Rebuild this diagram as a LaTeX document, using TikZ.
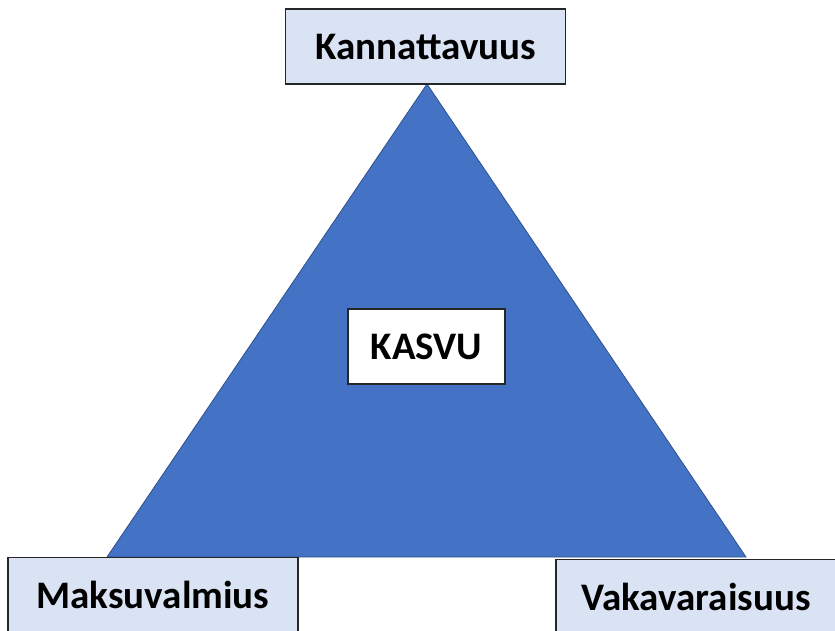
\documentclass[tikz,border=0pt]{standalone}
\usepackage{fontspec}
\setmainfont{Carlito}
\definecolor{triblue}{HTML}{4472C4}
\definecolor{triedge}{HTML}{2F528F}
\definecolor{boxblue}{HTML}{DAE3F3}
\begin{document}
\begin{tikzpicture}[x=1pt,y=-1pt,
	corner/.style={draw=black!85,line width=1.2pt,fill=boxblue,minimum width=280pt,minimum height=75pt,inner sep=0pt,font=\fontsize{39}{46}\selectfont\bfseries},
	core/.style={draw=black!85,line width=1.2pt,fill=white,minimum width=157pt,minimum height=75pt,inner sep=0pt,font=\fontsize{39}{46}\selectfont\bfseries}]
	% Frame of the picture
	\useasboundingbox (0,0) rectangle (835,630);
	\clip (0,0) rectangle (835,630);

	% Triangle
	\coordinate (apex) at (427,84);
	\coordinate (left) at (107,557);
	\coordinate (right) at (746,557);
	\draw[fill=triblue,draw=triedge,line width=0.8pt] (apex) -- (right) -- (left) -- cycle;

	% Corner boxes
	\node[corner] (kann) at (425.5,46.5) {Kannattavuus};
	\node[corner,minimum width=290pt] (maks) at (153,595) {Maksuvalmius};
	\node[corner] (vaka) at (696,597) {Vakavaraisuus};

	% Centre box
	\node[core] (kasvu) at (426.5,346.5) {KASVU};
\end{tikzpicture}
\end{document}
